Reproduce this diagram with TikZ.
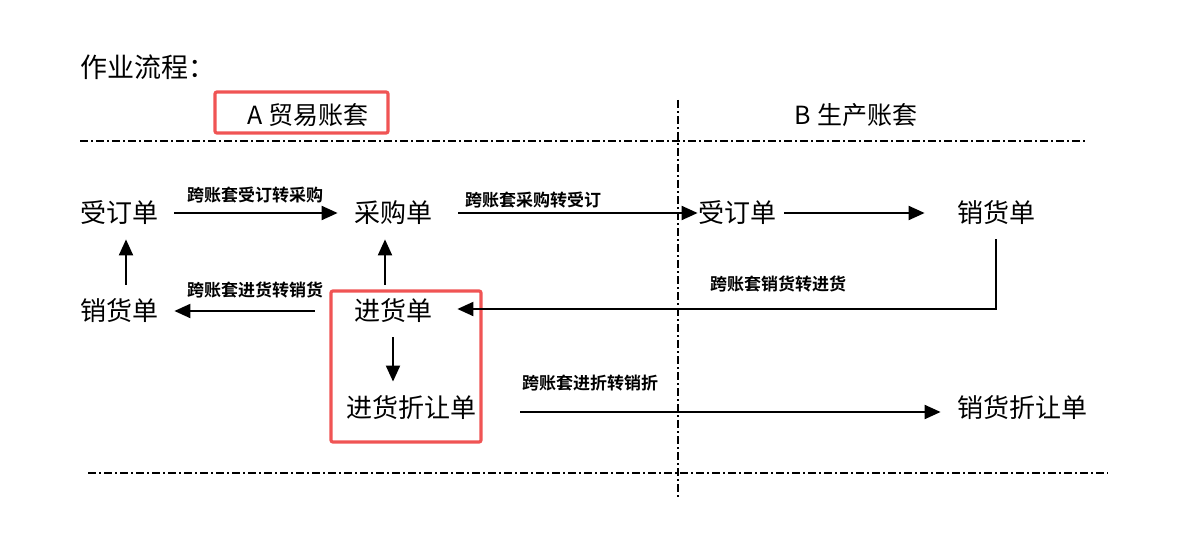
\documentclass[tikz,border=0pt]{standalone}
\usepackage{fontspec}
\setmainfont{Noto Sans CJK SC}[BoldFont={Noto Sans CJK SC Bold}]
\usetikzlibrary{arrows.meta}
\definecolor{boxred}{RGB}{240,84,84}
\tikzset{
  doc/.style={inner xsep=8pt,inner ysep=7pt,font=\fontsize{13}{15}\selectfont},
  lbl/.style={inner sep=0pt,font=\fontsize{8.5}{10}\bfseries\selectfont},
  arr/.style={line width=1pt,-{Triangle[length=8pt,width=7pt]}},
  divider/.style={line width=0.8pt,dash pattern=on 4pt off 1.5pt on 1pt off 1.5pt},
  redbox/.style={draw=boxred,line width=1.6pt,rounded corners=1pt}
}
\begin{document}
\begin{tikzpicture}[x=0.5pt,y=-0.5pt]
      \useasboundingbox (0,0) rectangle (1200,540);
      % headings
      \node[anchor=west,inner sep=0pt,font=\fontsize{13.5}{15}\selectfont] (title) at (80,67) {作业流程：};
      \node[font=\fontsize{12.5}{15}\selectfont] (setA) at (308,115) {A 贸易账套};
      \node[font=\fontsize{12.5}{15}\selectfont] (setB) at (856,115) {B 生产账套};
      \draw[redbox] (215,92) rectangle (388,133);
      % dividers
      \draw[divider] (80,141) -- (1085,141);
      \draw[divider] (88,473) -- (1108,473);
      \draw[divider] (678,100) -- (678,498);
      % documents
      \draw
        (119,213) node[doc] (soA){受订单}
        (393,213) node[doc] (po){采购单}
        (737,213) node[doc] (soB){受订单}
        (996,213) node[doc] (sdB){销货单}
        (119,311) node[doc] (sdA){销货单}
        (393,311) node[doc] (pr){进货单}
        (411,408) node[doc] (prd){进货折让单}
        (1022,408) node[doc] (sdd){销货折让单};
      \draw[redbox] (331,291) rectangle (481,442);
      % labels
      \draw
        (255,195) node[lbl] (l1){跨账套受订转采购}
        (533,200) node[lbl] (l2){跨账套采购转受订}
        (255,290) node[lbl] (l3){跨账套进货转销货}
        (778,284) node[lbl] (l4){跨账套销货转进货}
        (590,383) node[lbl] (l5){跨账套进折转销折};
      \begin{scope}[arr]
        \draw (soA.east) to (po.west);
        \draw ([xshift=5pt]po.east) to ([xshift=8pt]soB.west);
        \draw ([xshift=-4pt]soB.east) to ([xshift=-8pt]sdB.west);
        \draw ([xshift=3.5pt]sdA.north) to ([xshift=3.5pt]soA.south);
        \draw ([xshift=-4pt]pr.north) to ([xshift=-4pt]po.south);
        \draw ([xshift=-11.5pt]pr.west) to (sdA.east);
        \draw (sdB.south) |- ([xshift=4.5pt,yshift=1pt]pr.east);
        \draw (pr.south) to (pr.south |- prd.north);
        \draw ([xshift=14pt,yshift=-2pt]prd.east) to ([yshift=-2pt]sdd.west);
      \end{scope}
    \end{tikzpicture}
\end{document}
